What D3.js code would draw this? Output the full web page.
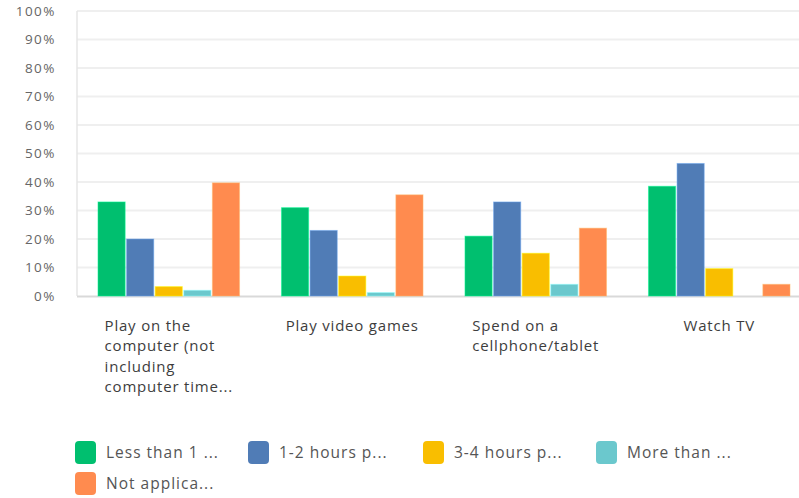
<!DOCTYPE html>
<html>
<head>
<meta charset="utf-8">
<script src="https://cdn.jsdelivr.net/npm/d3@7"></script>
<style>
  body { margin: 0; background: #fff; }
  svg { display: block; font-family: "Open Sans", "Noto Sans", sans-serif; }
</style>
</head>
<body>
<div id="chart"></div>
<script>
// Data
const categories = [
  ["Play on the", "computer (not", "including", "computer time..."],
  ["Play video games"],
  ["Spend on a", "cellphone/tablet"],
  ["Watch TV"]
];
const series = ["Less than 1 ...", "1-2 hours p...", "3-4 hours p...", "More than ...", "Not applica..."];
const lessThan1 = [33, 31, 21, 38.5];
const oneToTwo = [20, 23, 33, 46.5];
const threeToFour = [3.3, 7, 15, 9.6];
const moreThan = [2, 1.2, 4.1, 0];
const notApplicable = [39.7, 35.5, 23.8, 4.1];
const yTicks = [0, 10, 20, 30, 40, 50, 60, 70, 80, 90, 100];

const values = [lessThan1, oneToTwo, threeToFour, moreThan, notApplicable];
const colors = ["#00bf6f", "#507cb6", "#f9be00", "#6bc8cd", "#ff8b4f"];

const width = 799;
const height = 498;

const svg = d3.select('#chart')
  .append('svg')
  .attr('width', width)
  .attr('height', height);

const catIdx = categories.map((d, i) => i);

const x0 = d3.scaleBand()
  .domain(catIdx)
  .range([77, 811])
  .paddingInner(0.213)
  .paddingOuter(0.1066);

const x1 = d3.scaleBand()
  .domain(series)
  .range([0, x0.bandwidth()])
  .padding(0.05);

const y = d3.scaleLinear()
  .domain([0, 100])
  .range([296, 11]);

// Gridlines
svg.append('g')
  .selectAll('line')
  .data(yTicks.filter(t => t > 0))
  .enter()
  .append('line')
  .attr('x1', 77).attr('x2', width)
  .attr('y1', d => y(d)).attr('y2', d => y(d))
  .attr('stroke', '#efefef')
  .attr('stroke-width', 2);

// left axis line + baseline
svg.append('line')
  .attr('x1', 77).attr('x2', 77)
  .attr('y1', y(100)).attr('y2', y(0))
  .attr('stroke', '#e6e6e6').attr('stroke-width', 1.5);
svg.append('line')
  .attr('x1', 77).attr('x2', width)
  .attr('y1', y(0) + 0.5).attr('y2', y(0) + 0.5)
  .attr('stroke', '#d9d9d9').attr('stroke-width', 2);

// Y labels
svg.append('g')
  .selectAll('text')
  .data(yTicks)
  .enter()
  .append('text')
  .attr('x', 56)
  .attr('y', d => y(d) + 4.5)
  .attr('text-anchor', 'end')
  .attr('fill', '#666')
  .style('font-size', '13.5px')
  .style('letter-spacing', '1.5px')
  .text(d => d + '%');

// Bars
const groups = svg.append('g')
  .selectAll('g')
  .data(catIdx)
  .enter()
  .append('g')
  .attr('transform', i => `translate(${x0(i)},0)`);

groups.selectAll('rect')
  .data(i => series.map((s, k) => ({ s, k, v: values[k][i] })))
  .enter()
  .append('rect')
  .attr('x', d => x1(d.s))
  .attr('width', x1.bandwidth())
  .attr('y', d => y(d.v))
  .attr('height', d => y(0) - y(d.v))
  .attr('fill', d => colors[d.k])
  .attr('stroke', d => d3.color(colors[d.k]).brighter(0.8))
  .attr('stroke-opacity', 0.5)
  .attr('stroke-width', 1);

// Category labels (left-aligned block, centered in band)
categories.forEach((lines, i) => {
  const t = svg.append('text')
    .attr('fill', '#3d3d3d')
    .style('font-size', '15px')
    .style('letter-spacing', '0.8px');
  lines.forEach((line, j) => {
    t.append('tspan')
      .attr('dy', j === 0 ? 0 : 20.3)
      .text(line);
  });
  const w = d3.max(t.selectAll('tspan').nodes(), n => n.getComputedTextLength());
  const left = x0(i) + x0.bandwidth() / 2 - w / 2;
  t.attr('x', left).attr('y', 331);
  t.selectAll('tspan').attr('x', left);
});

// Legend
const legendPos = [[75, 441], [248, 441], [423, 441], [596, 441], [75, 472]];
const legend = svg.append('g')
  .selectAll('g')
  .data(series)
  .enter()
  .append('g')
  .attr('transform', (d, k) => `translate(${legendPos[k][0]},${legendPos[k][1]})`);

legend.append('rect')
  .attr('width', 21).attr('height', 23)
  .attr('rx', 4)
  .attr('fill', (d, k) => colors[k]);

legend.append('text')
  .attr('x', 31)
  .attr('y', 17)
  .attr('fill', '#555')
  .style('font-size', '15.5px')
  .style('letter-spacing', '1px')
  .text(d => d);
</script>
</body>
</html>
